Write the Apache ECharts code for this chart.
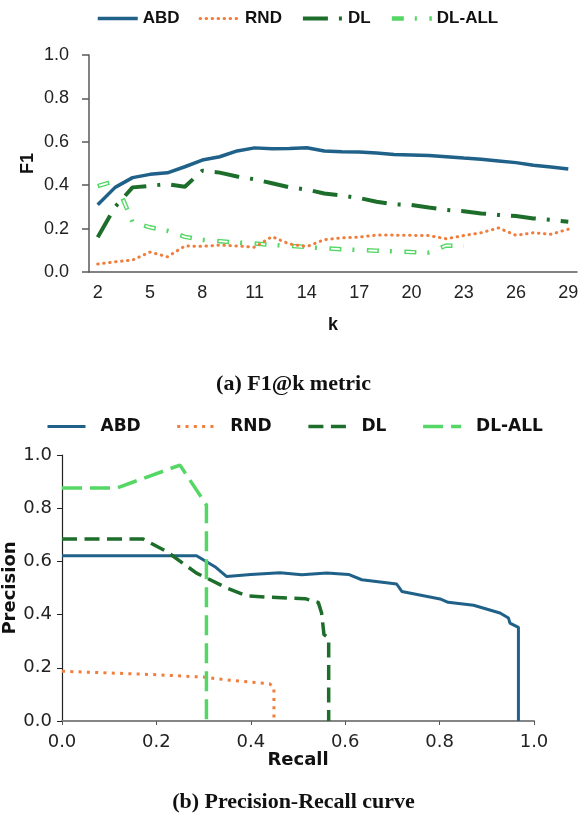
<!DOCTYPE html>
<html>
<head>
<meta charset="utf-8">
<script src="https://cdn.jsdelivr.net/npm/echarts@6/dist/echarts.min.js"></script>
<style>
  html, body { margin: 0; padding: 0; background: #fff; }
  #main { width: 587px; height: 819px; }
</style>
</head>
<body>
<div id="main"></div>
<script>
// ---- (a) F1@k ----
var kLabels = ['2','3','4','5','6','7','8','9','10','11','12','13','14','15','16','17','18','19','20','21','22','23','24','25','26','27','28','29'];
var f1ABD = [0.31,0.39,0.435,0.45,0.457,0.485,0.516,0.531,0.558,0.572,0.568,0.569,0.573,0.558,0.554,0.553,0.548,0.541,0.539,0.537,0.531,0.525,0.52,0.512,0.504,0.492,0.484,0.475];
var f1RND = [0.037,0.047,0.055,0.092,0.07,0.12,0.118,0.124,0.12,0.114,0.163,0.129,0.117,0.149,0.157,0.161,0.17,0.17,0.169,0.168,0.153,0.168,0.181,0.203,0.169,0.181,0.174,0.197];
var f1DL = [0.16,0.30,0.39,0.397,0.405,0.393,0.467,0.458,0.44,0.427,0.409,0.39,0.38,0.362,0.352,0.341,0.324,0.312,0.309,0.297,0.286,0.28,0.27,0.263,0.258,0.247,0.24,0.232];
var f1DLALL = [0.396,0.42,0.23,0.206,0.19,0.162,0.148,0.142,0.136,0.131,0.125,0.12,0.115,0.109,0.105,0.101,0.098,0.095,0.092,0.09,0.122,0.12];

// ---- (b) Precision-Recall ----
var abdRecall = [0,0.285,0.324,0.349,0.4,0.462,0.508,0.561,0.607,0.635,0.709,0.72,0.801,0.818,0.872,0.928,0.946,0.949,0.967,0.967];
var abdPrec   = [0.621,0.621,0.58,0.543,0.551,0.557,0.55,0.556,0.551,0.531,0.515,0.487,0.459,0.446,0.435,0.406,0.387,0.368,0.352,0];
var rndRecall = [0,0.186,0.3,0.356,0.44,0.449,0.449];
var rndPrec   = [0.187,0.175,0.165,0.153,0.14,0.125,0];
var dlRecall  = [0,0.172,0.222,0.285,0.349,0.391,0.43,0.515,0.543,0.55,0.555,0.565,0.565];
var dlPrec    = [0.684,0.684,0.637,0.556,0.5,0.471,0.466,0.46,0.446,0.406,0.325,0.312,0];
var dlallRecall = [0,0.116,0.25,0.306,0.306];
var dlallPrec   = [0.876,0.876,0.962,0.812,0];

var seriesNames = ['ABD','RND','DL','DL-ALL'];
var cBlue = '#1f6188', cOrange = '#f07d3c', cDark = '#1e6e2b', cLight = '#55d765';

function pairs(xs, ys) {
  return xs.map(function (x, i) { return [x, ys[i]]; });
}
function fmt1(v) { return v.toFixed(1); }

var myChart = echarts.init(document.getElementById('main'));
var option = {
  animation: false,
  title: [
    { text: '(a) F1@k metric', left: 'center', top: 368,
      textStyle: { fontFamily: 'Liberation Serif', fontWeight: 'bold', fontSize: 22, color: '#111' } },
    { text: '(b) Precision-Recall curve', left: 'center', top: 786,
      textStyle: { fontFamily: 'Liberation Serif', fontWeight: 'bold', fontSize: 22, color: '#111' } }
  ],
  legend: [
    {
      data: seriesNames,
      left: 91, top: 5,
      itemWidth: 40, itemHeight: 14, itemGap: 19,
      itemStyle: { opacity: 0 },
      lineStyle: { width: 'inherit' },
      textStyle: { fontFamily: 'Liberation Sans', fontWeight: 'bold', fontSize: 17, color: '#111' }
    },
    {
      data: seriesNames.map(function (n) { return n + ' '; }),
      formatter: function (n) { return n.trim(); },
      left: 41, top: 413,
      itemWidth: 38, itemHeight: 14, itemGap: 35,
      itemStyle: { opacity: 0 },
      lineStyle: { width: 'inherit' },
      textStyle: { fontFamily: 'DejaVu Sans', fontWeight: 'bold', fontSize: 17, color: '#111', padding: [0, 0, 0, 10] }
    }
  ],
  grid: [
    { left: 89, top: 55, width: 488, height: 217, outerBoundsMode: 'none' },
    { left: 62, top: 455, width: 472, height: 266, outerBoundsMode: 'none' }
  ],
  xAxis: [
    {
      gridIndex: 0, type: 'category', data: kLabels, boundaryGap: true,
      name: 'k', nameLocation: 'middle', nameGap: 44, nameMoveOverlap: false,
      nameTextStyle: { fontFamily: 'Liberation Sans', fontWeight: 'bold', fontSize: 18, color: '#111' },
      axisLine: { lineStyle: { color: '#595959', width: 1.5 } },
      axisTick: { interval: 2, length: 6, alignWithLabel: false, lineStyle: { color: '#595959', width: 1.5 } },
      axisLabel: { interval: 2, margin: 12, fontFamily: 'Liberation Sans', fontSize: 18, color: '#222' },
      splitLine: { show: false }
    },
    {
      gridIndex: 1, type: 'value', min: 0, max: 1, interval: 0.2,
      name: 'Recall', nameLocation: 'middle', nameGap: 30, nameMoveOverlap: false,
      nameTextStyle: { fontFamily: 'DejaVu Sans', fontWeight: 'bold', fontSize: 18, color: '#111' },
      axisLine: { show: true, lineStyle: { color: '#858585', width: 2 } },
      axisTick: { show: true, length: 4, lineStyle: { color: '#555' } },
      axisLabel: { margin: 12, formatter: fmt1, fontFamily: 'DejaVu Sans', fontSize: 18, color: '#222' },
      splitLine: { show: false }
    }
  ],
  yAxis: [
    {
      gridIndex: 0, type: 'value', min: 0, max: 1, interval: 0.2,
      name: 'F1', nameLocation: 'middle', nameGap: 52, nameRotate: 90, nameMoveOverlap: false,
      nameTextStyle: { fontFamily: 'Liberation Sans', fontWeight: 'bold', fontSize: 18, color: '#111' },
      axisLine: { show: true, lineStyle: { color: '#595959', width: 1.5 } },
      axisTick: { show: true, length: 7, lineStyle: { color: '#595959', width: 1.5 } },
      axisLabel: { margin: 20, formatter: fmt1, fontFamily: 'Liberation Sans', fontSize: 18, color: '#222' },
      splitLine: { show: false }
    },
    {
      gridIndex: 1, type: 'value', min: 0, max: 1, interval: 0.2,
      name: 'Precision', nameLocation: 'middle', nameGap: 43, nameRotate: 90, nameMoveOverlap: false,
      nameTextStyle: { fontFamily: 'DejaVu Sans', fontWeight: 'bold', fontSize: 18, color: '#111' },
      axisLine: { show: true, lineStyle: { color: '#222', width: 1.2 } },
      axisTick: { show: true, length: 5, lineStyle: { color: '#222' } },
      axisLabel: { margin: 10, formatter: fmt1, fontFamily: 'DejaVu Sans', fontSize: 18, color: '#222' },
      splitLine: { show: false }
    }
  ],
  series: [
    // top chart
    { name: 'DL-ALL', type: 'line', xAxisIndex: 0, yAxisIndex: 0, data: f1DLALL, symbol: 'none',
      lineStyle: { color: cLight, width: 4.5, type: [12, 11, 2, 12.5] }, itemStyle: { color: cLight } },
    { name: 'dlall-hollow', type: 'line', xAxisIndex: 0, yAxisIndex: 0, data: f1DLALL, symbol: 'none', silent: true,
      lineStyle: { color: '#ffffff', width: 1.8, type: [9, 28.5], dashOffset: -1.5 } },
    { name: 'RND', type: 'line', xAxisIndex: 0, yAxisIndex: 0, data: f1RND, symbol: 'none',
      lineStyle: { color: cOrange, width: 3, type: [0.5, 5.5], cap: 'round' }, itemStyle: { color: cOrange } },
    { name: 'DL', type: 'line', xAxisIndex: 0, yAxisIndex: 0, data: f1DL, symbol: 'none',
      lineStyle: { color: cDark, width: 4, type: [25, 11, 3, 11] }, itemStyle: { color: cDark } },
    { name: 'ABD', type: 'line', xAxisIndex: 0, yAxisIndex: 0, data: f1ABD, symbol: 'none',
      lineStyle: { color: cBlue, width: 3.5 }, itemStyle: { color: cBlue } },
    // bottom chart
    { name: 'ABD ', type: 'line', xAxisIndex: 1, yAxisIndex: 1, data: pairs(abdRecall, abdPrec), symbol: 'none',
      lineStyle: { color: cBlue, width: 3 }, itemStyle: { color: cBlue } },
    { name: 'RND ', type: 'line', xAxisIndex: 1, yAxisIndex: 1, data: pairs(rndRecall, rndPrec), symbol: 'none',
      lineStyle: { color: cOrange, width: 3, type: [3, 5.3] }, itemStyle: { color: cOrange } },
    { name: 'DL ', type: 'line', xAxisIndex: 1, yAxisIndex: 1, data: pairs(dlRecall, dlPrec), symbol: 'none',
      lineStyle: { color: cDark, width: 3.5, type: [15, 7.5] }, itemStyle: { color: cDark } },
    { name: 'DL-ALL ', type: 'line', xAxisIndex: 1, yAxisIndex: 1, data: pairs(dlallRecall, dlallPrec), symbol: 'none',
      lineStyle: { color: cLight, width: 3.5, type: [20, 8] }, itemStyle: { color: cLight } }
  ]
};
myChart.setOption(option);
</script>
</body>
</html>
